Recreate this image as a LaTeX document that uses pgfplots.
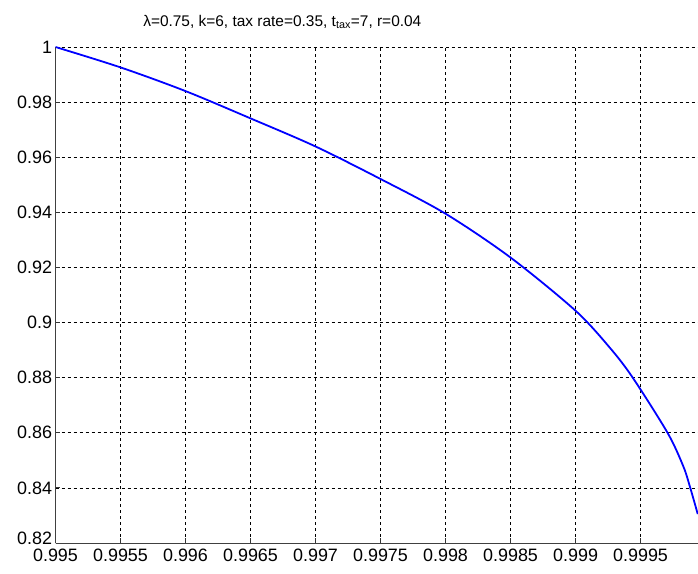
\documentclass[border=0pt]{standalone}
\usepackage{fontspec}
\setmainfont{Liberation Sans}
\usepackage{pgfplots}
\pgfplotsset{compat=1.18}
\begin{document}
\begin{tikzpicture}
\begin{axis}[name=ax,
  scale only axis, width=642.5bp, height=496bp,
  xmin=0.995, xmax=0.999942, ymin=0.82, ymax=1,
  axis x line*=bottom, axis y line*=left,
  axis line style={black!75, line width=0.9pt, -},
  tick align=inside, tick style={black!80, line width=0.9pt},
  major tick length=5bp,
  xtick={0.995,0.9955,0.996,0.9965,0.997,0.9975,0.998,0.9985,0.999,0.9995},
  xticklabels={0.995,0.9955,0.996,0.9965,0.997,0.9975,0.998,0.9985,0.999,0.9995},
  ytick={0.82,0.84,0.86,0.88,0.9,0.92,0.94,0.96,0.98,1},
  yticklabels={\raisebox{9bp}{0.82},0.84,0.86,0.88,0.9,0.92,0.94,0.96,0.98,1},
  scaled x ticks=false, scaled y ticks=false,
  grid=major, major grid style={black, dash pattern=on 3bp off 3bp, line width=0.7pt},
  ticklabel style={font=\fontsize{18}{20}\selectfont},
  xticklabel style={yshift=-2bp},
  title={λ=0.75, k=6, tax rate=0.35, t$_{\mathrm{tax}}$=7, r=0.04},
  title style={font=\fontsize{15.5}{18}\selectfont, at={(0.353,1)}, anchor=south, yshift=9bp},
  /pgf/number format/assume math mode=true,
  clip=true,
]
\addplot[color={rgb,255:red,0;green,0;blue,255}, line width=1.8pt, smooth, tension=0.5] coordinates {
(0.995,1.0)
(0.9955,0.9926)
(0.996,0.984)
(0.9965,0.9741)
(0.997,0.9639)
(0.9975,0.9521)
(0.998,0.9395)
(0.9985,0.9236)
(0.999,0.9043)
(0.999265,0.8908)
(0.99944,0.88)
(0.99971,0.8598)
(0.99983,0.8477)
(0.99988,0.8404)
(0.99994,0.8305)
};
\end{axis}
\pgfresetboundingbox
\path[use as bounding box] ([shift={(-55.5bp,-31bp)}]ax.south west) rectangle ([shift={(0bp,47bp)}]ax.north east);
\end{tikzpicture}
\end{document}
